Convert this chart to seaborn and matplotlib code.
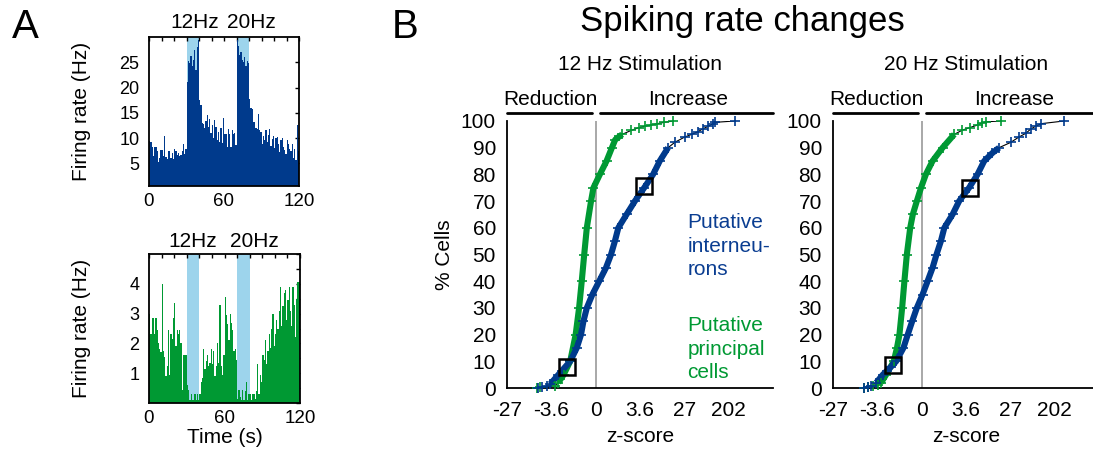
import numpy as np
import pandas as pd
import matplotlib
matplotlib.use("Agg")
import matplotlib.pyplot as plt
import seaborn as sns
from matplotlib.ticker import MultipleLocator, FixedLocator

sns.set_style("white")
plt.rcParams['font.family'] = ['Liberation Sans', 'DejaVu Sans']
plt.rcParams['axes.edgecolor'] = 'black'
plt.rcParams['text.color'] = 'black'
plt.rcParams['axes.labelcolor'] = 'black'
plt.rcParams['xtick.color'] = 'black'
plt.rcParams['ytick.color'] = 'black'

# ---------------- data ----------------
time_edges = np.arange(0, 121, 1)
stim_windows = [(30, 40), (70, 80)]
stim_labels = ["12Hz", "20Hz"]

interneuron_rate = [
    9.5, 9.2, 8.2, 6.4, 8.2, 8.2, 7.4, 5.2, 6.0, 7.6,
    7.6, 6.4, 10.4, 6.2, 5.8, 7.4, 7.4, 6.0, 7.0, 5.8,
    7.8, 7.4, 6.6, 7.0, 6.4, 6.6, 7.4, 8.8, 6.8, 7.8,
    21.0, 25.3, 24.8, 26.3, 24.3, 25.5, 27.5, 23.5, 28.0, 29.5,
    17.5, 16.5, 13.0, 12.8, 12.0, 13.4, 14.5, 12.2, 13.8, 11.0,
    12.6, 10.0, 13.6, 12.2, 9.6, 11.2, 9.3, 12.0, 9.0, 14.0,
    10.8, 10.8, 8.2, 11.8, 10.8, 8.2, 11.6, 10.8, 11.0, 8.6,
    29.5, 28.2, 26.5, 27.0, 25.5, 25.0, 26.0, 24.2, 25.2, 24.8,
    17.8, 16.0, 15.8, 13.2, 13.2, 12.0, 11.8, 14.8, 11.6, 11.2,
    8.8, 10.4, 9.6, 11.6, 9.2, 10.6, 11.8, 8.4, 9.8, 10.4,
    8.0, 10.0, 10.2, 8.8, 7.2, 9.6, 10.0, 8.2, 7.6, 6.8,
    9.6, 8.8, 7.8, 7.4, 8.8, 6.0, 7.8, 5.6, 12.6, 7.4,
]

principal_rate = [
    3.0, 2.3, 2.85, 2.85, 2.3, 2.85, 2.45, 2.0, 1.8, 1.7,
    4.0, 1.75, 1.55, 0.9, 1.25, 2.45, 0.95, 2.3, 2.15, 2.85,
    3.35, 1.9, 2.45, 2.3, 2.45, 2.0, 0.45, 1.6, 1.6, 1.6,
    0.6, 0.45, 0.1, 0.3, 0.1, 0.1, 0.3, 0.1, 0.3, 0.1,
    0.3, 0.7, 0.85, 1.8, 1.15, 1.4, 1.6, 1.25, 1.35, 1.8,
    1.3, 1.75, 0.9, 1.25, 2.0, 1.35, 3.3, 1.25, 0.95, 1.6,
    3.55, 2.95, 2.65, 2.1, 3.0, 2.7, 2.45, 1.75, 1.8, 1.45,
    0.15, 0.45, 0.2, 0.1, 0.45, 0.1, 0.4, 0.7, 0.1, 0.3,
    0.3, 0.1, 0.3, 0.3, 0.15, 0.4, 1.3, 0.3, 0.95, 0.7,
    1.6, 1.45, 2.1, 1.3, 1.75, 2.3, 1.85, 2.5, 3.0, 1.9,
    2.3, 2.8, 2.5, 3.1, 3.9, 2.6, 3.25, 3.7, 3.8, 2.8,
    3.45, 3.9, 3.1, 2.6, 3.9, 3.3, 2.2, 3.5, 4.05, 4.05,
]

# cumulative distributions of z-scores (% cells vs z-score)
pct_pc12 = [0, 0.4, 0.8, 2, 5, 10, 20, 30, 40, 50, 60, 70, 75, 80, 85, 90, 93, 95,
            96.5, 97.5, 98, 98.5, 99, 99.5, 100]
z_pc12 = [-7.0, -6.0, -3.1, -2.6, -2.0, -1.42, -1.03, -0.82, -0.67, -0.54, -0.41,
          -0.21, -0.10, 0.19, 0.51, 0.80, 1.0, 1.5, 2.4, 3.4, 4.5, 6.0, 8.0, 11.0, 16.4]

pct_in12 = [0, 0.4, 0.8, 1.5, 5, 10, 15, 20, 25, 30, 35, 40, 45, 50, 55, 60, 65, 70,
            75, 80, 85, 90, 92, 94, 95, 96, 97, 98, 99, 99.5, 100]
z_in12 = [-6.6, -5.6, -4.45, -3.8, -2.59, -1.42, -0.96, -0.71, -0.58, -0.41, -0.15,
          0.16, 0.48, 0.75, 0.98, 1.21, 1.89, 2.85, 4.41, 6.63, 8.97, 13.1, 17.7,
          27.8, 38.0, 50.7, 62.0, 79.6, 99.2, 110.0, 264.0]

pct_pc20 = [0, 0.3, 0.6, 1, 2, 5, 10, 15, 20, 30, 40, 50, 60, 65, 70, 75, 80, 85, 90,
            95, 96.6, 97.5, 98.5, 99.2, 99.7, 100]
z_pc20 = [-6.6, -5.6, -4.45, -3.55, -3.04, -2.38, -1.62, -1.36, -1.18, -1.0, -0.86,
          -0.72, -0.54, -0.41, -0.22, -0.03, 0.19, 0.51, 1.09, 2.06, 3.07, 4.3, 6.17,
          7.5, 8.97, 17.7]

pct_in20 = [0, 0.4, 0.8, 2, 5, 8, 10, 15, 20, 25, 30, 35, 40, 45, 50, 55, 60, 65, 70,
            75, 80, 85, 88, 90, 92, 94, 95.4, 97, 98, 99, 100]
z_in20 = [-6.6, -5.6, -4.8, -3.82, -2.79, -1.86, -1.42, -0.92, -0.67, -0.44, -0.22,
          0.04, 0.27, 0.51, 0.72, 0.98, 1.21, 1.89, 2.62, 4.19, 6.17, 8.36, 12.1,
          16.4, 27.8, 40.3, 55.0, 68.5, 85.0, 110.0, 307.0]

box12_z = [-1.70, 4.41]
box12_pct = [8.0, 75.6]
box20_z = [-1.70, 4.41]
box20_pct = [8.5, 75.0]

z_ticks = [-27.28, -3.627, 0, 3.627, 27.29, 201.7]
z_tick_labels = ["-27", "-3.6", "0", "3.6", "27", "202"]
pct_ticks = list(range(0, 101, 10))

# ---------------- style ----------------
BLUE = '#003a8c'
GREEN = '#009933'
SHADE = '#9dd4ec'
W, H = 1093, 450

fig = plt.figure(figsize=(W / 100, H / 100), dpi=100)


def box(l, t, r, b):
    return [l / W, 1 - b / H, (r - l) / W, (b - t) / H]


def hist_panel(ax, rate, color, ylim, yticks, yminor):
    df = pd.DataFrame({'t': time_edges[:-1] + 0.5, 'rate': rate})
    for (a, b) in stim_windows:
        ax.axvspan(a, b, color=SHADE, lw=0, zorder=0)
    sns.histplot(data=df, x='t', weights='rate', binwidth=1, binrange=(0, 120),
                 color=color, alpha=1, linewidth=0, ax=ax, zorder=2)
    ax.set_xlim(0, 120)
    ax.set_ylim(*ylim)
    ax.set_xticks([0, 60, 120])
    ax.xaxis.set_minor_locator(MultipleLocator(10))
    ax.set_yticks(yticks)
    if yminor:
        ax.yaxis.set_minor_locator(MultipleLocator(yminor))
    ax.tick_params(which='both', direction='in', top=True, right=True,
                   length=3, width=1, colors='black')
    ax.tick_params(axis='y', labelsize=13, pad=7)
    ax.tick_params(axis='x', labelsize=13.5, pad=5)
    ax.set_ylabel("Firing rate (Hz)", fontsize=15)
    ax.yaxis.set_label_coords(-0.385, 0.5)
    for s in ax.spines.values():
        s.set_linewidth(1.3)
        s.set_color('black')


axA1 = fig.add_axes(box(149, 37, 299, 186))
hist_panel(axA1, interneuron_rate, BLUE, (0.5, 30), [5, 10, 15, 20, 25], None)
axA1.set_xlabel("")
axA1.text(36.4, 1.095, stim_labels[0], transform=axA1.get_xaxis_transform(),
          ha='center', va='center', fontsize=15)
axA1.text(82.0, 1.095, stim_labels[1], transform=axA1.get_xaxis_transform(),
          ha='center', va='center', fontsize=15)

axA2 = fig.add_axes(box(149, 254, 300, 403))
hist_panel(axA2, principal_rate, GREEN, (0, 5), [1, 2, 3, 4], 0.5)
axA2.set_xlabel("Time (s)", fontsize=15)
axA2.xaxis.set_label_coords(0.5, -0.17)
axA2.xaxis.label.set_va('top')
axA2.text(34.7, 1.085, stim_labels[0], transform=axA2.get_xaxis_transform(),
          ha='center', va='center', fontsize=15)
axA2.text(84.0, 1.085, stim_labels[1], transform=axA2.get_xaxis_transform(),
          ha='center', va='center', fontsize=15)


def draw_cdf(ax, z, pct, color, body):
    df = pd.DataFrame({'z': z, 'pct': pct})
    sns.lineplot(data=df, x='z', y='pct', sort=False, estimator=None,
                 color='black', lw=0.8, ax=ax, zorder=2)
    m = (df.pct >= body[0]) & (df.pct <= body[1])
    sns.lineplot(data=df[m], x='z', y='pct', sort=False, estimator=None,
                 color=color, lw=4.4, ax=ax, zorder=3, solid_capstyle='butt')
    sns.scatterplot(data=df, x='z', y='pct', marker='+', s=55, linewidth=1.2,
                    color=color, ax=ax, zorder=4, clip_on=False)


def cdf_panel(ax, title, curves, bz, bp, ylabel):
    ax.set_xscale('function', functions=(np.arcsinh, np.sinh))
    ax.axvline(0, color='#9a9a9a', lw=1.2, zorder=1)
    for z, pct, color, body in curves:
        draw_cdf(ax, z, pct, color, body)
    bdf = pd.DataFrame({'z': bz, 'pct': bp})
    sns.lineplot(data=bdf, x='z', y='pct', sort=False, estimator=None, marker='s',
                 ls='', ms=12, mfc='none', mec='black', mew=1.8, ax=ax, zorder=5)
    ax.set_xlim(np.sinh(-4), np.sinh(8))
    ax.set_ylim(0, 100)
    ax.xaxis.set_major_locator(FixedLocator(z_ticks))
    ax.set_xticklabels(z_tick_labels)
    ax.xaxis.set_minor_locator(FixedLocator([]))
    ax.set_yticks(pct_ticks)
    ax.tick_params(direction='in', length=4, width=1, colors='black', labelsize=15)
    ax.tick_params(axis='y', pad=8)
    ax.tick_params(axis='x', pad=9)
    for k in ['top', 'right']:
        ax.spines[k].set_visible(False)
    for k in ['left', 'bottom']:
        ax.spines[k].set_linewidth(1.3)
        ax.spines[k].set_color('black')
    ax.set_xlabel("z-score", fontsize=15)
    ax.xaxis.set_label_coords(0.5, -0.145)
    ax.xaxis.label.set_va('top')
    if ylabel:
        ax.set_ylabel("% Cells", fontsize=15)
        ax.yaxis.set_label_coords(-0.2, 0.5)
    else:
        ax.set_ylabel("")
    ax.set_title(title, fontsize=15, y=1.16)
    tr = ax.transAxes
    ax.plot([0, 0.32], [1.03, 1.03], color='black', lw=2, transform=tr, clip_on=False)
    ax.plot([0.35, 1.0], [1.03, 1.03], color='black', lw=2, transform=tr, clip_on=False)
    ax.text(0.162, 1.045, "Reduction", transform=tr, ha='center', va='bottom', fontsize=15)
    ax.text(0.68, 1.045, "Increase", transform=tr, ha='center', va='bottom', fontsize=15)


axB1 = fig.add_axes(box(507, 121, 773, 388))
cdf_panel(axB1, "12 Hz Stimulation",
          [(z_pc12, pct_pc12, GREEN, (1.5, 96)), (z_in12, pct_in12, BLUE, (1, 91))],
          box12_z, box12_pct, True)
axB1.text(0.678, 0.423, "Putative\ninterneu-\nrons", transform=axB1.transAxes,
          color='#0a3d91', fontsize=15, ha='left', va='baseline', linespacing=1.3)
axB1.text(0.678, 0.037, "Putative\nprincipal\ncells", transform=axB1.transAxes,
          color=GREEN, fontsize=15, ha='left', va='baseline', linespacing=1.3)

axB2 = fig.add_axes(box(833, 121, 1099, 388))
cdf_panel(axB2, "20 Hz Stimulation",
          [(z_pc20, pct_pc20, GREEN, (1.5, 96)), (z_in20, pct_in20, BLUE, (1, 91))],
          box20_z, box20_pct, False)

fig.text(25 / W, 1 - 27 / H, "A", fontsize=29, ha='center', va='center')
fig.text(405 / W, 1 - 27 / H, "B", fontsize=29, ha='center', va='center')
fig.text(742 / W, 1 - 22 / H, "Spiking rate changes", fontsize=25, ha='center', va='center')

fig.savefig("out.png", dpi=100)
